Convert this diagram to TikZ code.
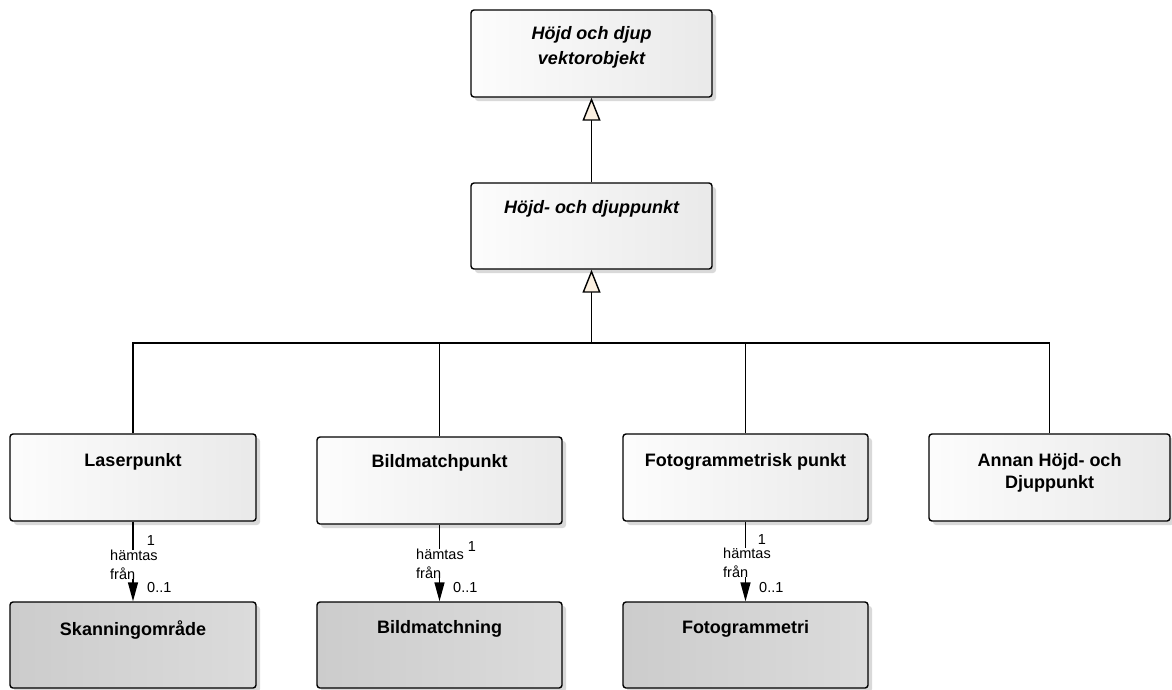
\documentclass[tikz,border=0pt]{standalone}
\usepackage{fontspec}
\setmainfont{Liberation Sans}
\usetikzlibrary{arrows.meta,shadows}
\definecolor{cream}{HTML}{FBF0E1}
\tikzset{
  cls/.style={draw=black, line width=1.4pt, rounded corners=3pt, inner sep=0pt,
    left color=gray!2, right color=gray!17,
    drop shadow={shadow xshift=4pt, shadow yshift=-4pt, fill=black!15, opacity=1}},
  ext/.style={cls, left color=gray!40, right color=gray!28},
  nm/.style={font=\fontsize{18}{22}\selectfont\bfseries, align=center, anchor=north},
  inm/.style={font=\fontsize{18}{25}\selectfont\bfseries\itshape, align=center, anchor=north},
  sm/.style={font=\fontsize{14.5}{19}\selectfont, inner sep=0pt},
  gen/.style={line width=1.4pt, -{Triangle[length=23pt,width=18pt,fill=cream,line width=1.4pt]}},
  conn/.style={line width=1.4pt},
  assoc/.style={line width=1.4pt, -{Triangle[length=19pt,width=10pt,fill=black]}}
}
\begin{document}
\begin{tikzpicture}[x=1pt,y=-1pt]
\useasboundingbox (0,0) rectangle (1172,689);
% classes
\node[cls, minimum width=241pt, minimum height=87pt,
  label={[inm, yshift=-14pt]north:Höjd och djup\\vektorobjekt}] (vo) at (591.5,53.5) {};
\node[cls, minimum width=241pt, minimum height=86pt,
  label={[inm, yshift=-15pt]north:Höjd- och djuppunkt}] (hd) at (591.5,226) {};
\node[cls, minimum width=246pt, minimum height=87pt,
  label={[nm, yshift=-17pt]north:Laserpunkt}] (lp) at (133,477.5) {};
\node[cls, minimum width=245pt, minimum height=87pt,
  label={[nm, yshift=-15pt]north:Bildmatchpunkt}] (bp) at (439.5,480.5) {};
\node[cls, minimum width=245pt, minimum height=87pt,
  label={[nm, yshift=-17pt]north:Fotogrammetrisk punkt}] (fp) at (745.5,477.5) {};
\node[cls, minimum width=241pt, minimum height=87pt,
  label={[nm, yshift=-17pt]north:Annan Höjd- och\\Djuppunkt}] (ap) at (1049.5,477.5) {};
\node[ext, minimum width=246pt, minimum height=86pt,
  label={[nm, yshift=-16pt]north:Skanningområde}] (sk) at (133,645) {};
\node[ext, minimum width=245pt, minimum height=86pt,
  label={[nm, yshift=-16pt]north:Bildmatchning}] (bm) at (439.5,645) {};
\node[ext, minimum width=245pt, minimum height=86pt,
  label={[nm, yshift=-16pt]north:Fotogrammetri}] (fg) at (745.5,645) {};
% generalisations
\draw[gen] (hd.north) -- (vo.south);
\coordinate (bus) at (591.5,343);
\draw[gen] (bus) -- (hd.south);
\draw[conn] (lp.north) |- (bus);
\draw[conn] (bp.north) |- (bus);
\draw[conn] (fp.north) |- (bus);
\draw[conn] (ap.north) |- (bus);
% associations
\draw[assoc] (lp.south) -- (sk.north);
\draw[assoc] (bp.south) -- (bm.north);
\draw[assoc] (fp.south) -- (fg.north);
% association labels
\node[sm, fill=white, align=left, anchor=west] (l1) at (110,564.5) {hämtas\\från};
\node[sm, anchor=center] (l1a) at (151,541) {1};
\node[sm, anchor=west] (l1b) at (147,587) {0..1};
\node[sm, fill=white, align=left, anchor=west] (l2) at (416,563.5) {hämtas\\från};
\node[sm, anchor=center] (l2a) at (472,546) {1};
\node[sm, anchor=west] (l2b) at (453,587) {0..1};
\node[sm, fill=white, align=left, anchor=west] (l3) at (723,562.5) {hämtas\\från};
\node[sm, anchor=center] (l3a) at (762,539) {1};
\node[sm, anchor=west] (l3b) at (759,587) {0..1};
\end{tikzpicture}
\end{document}
